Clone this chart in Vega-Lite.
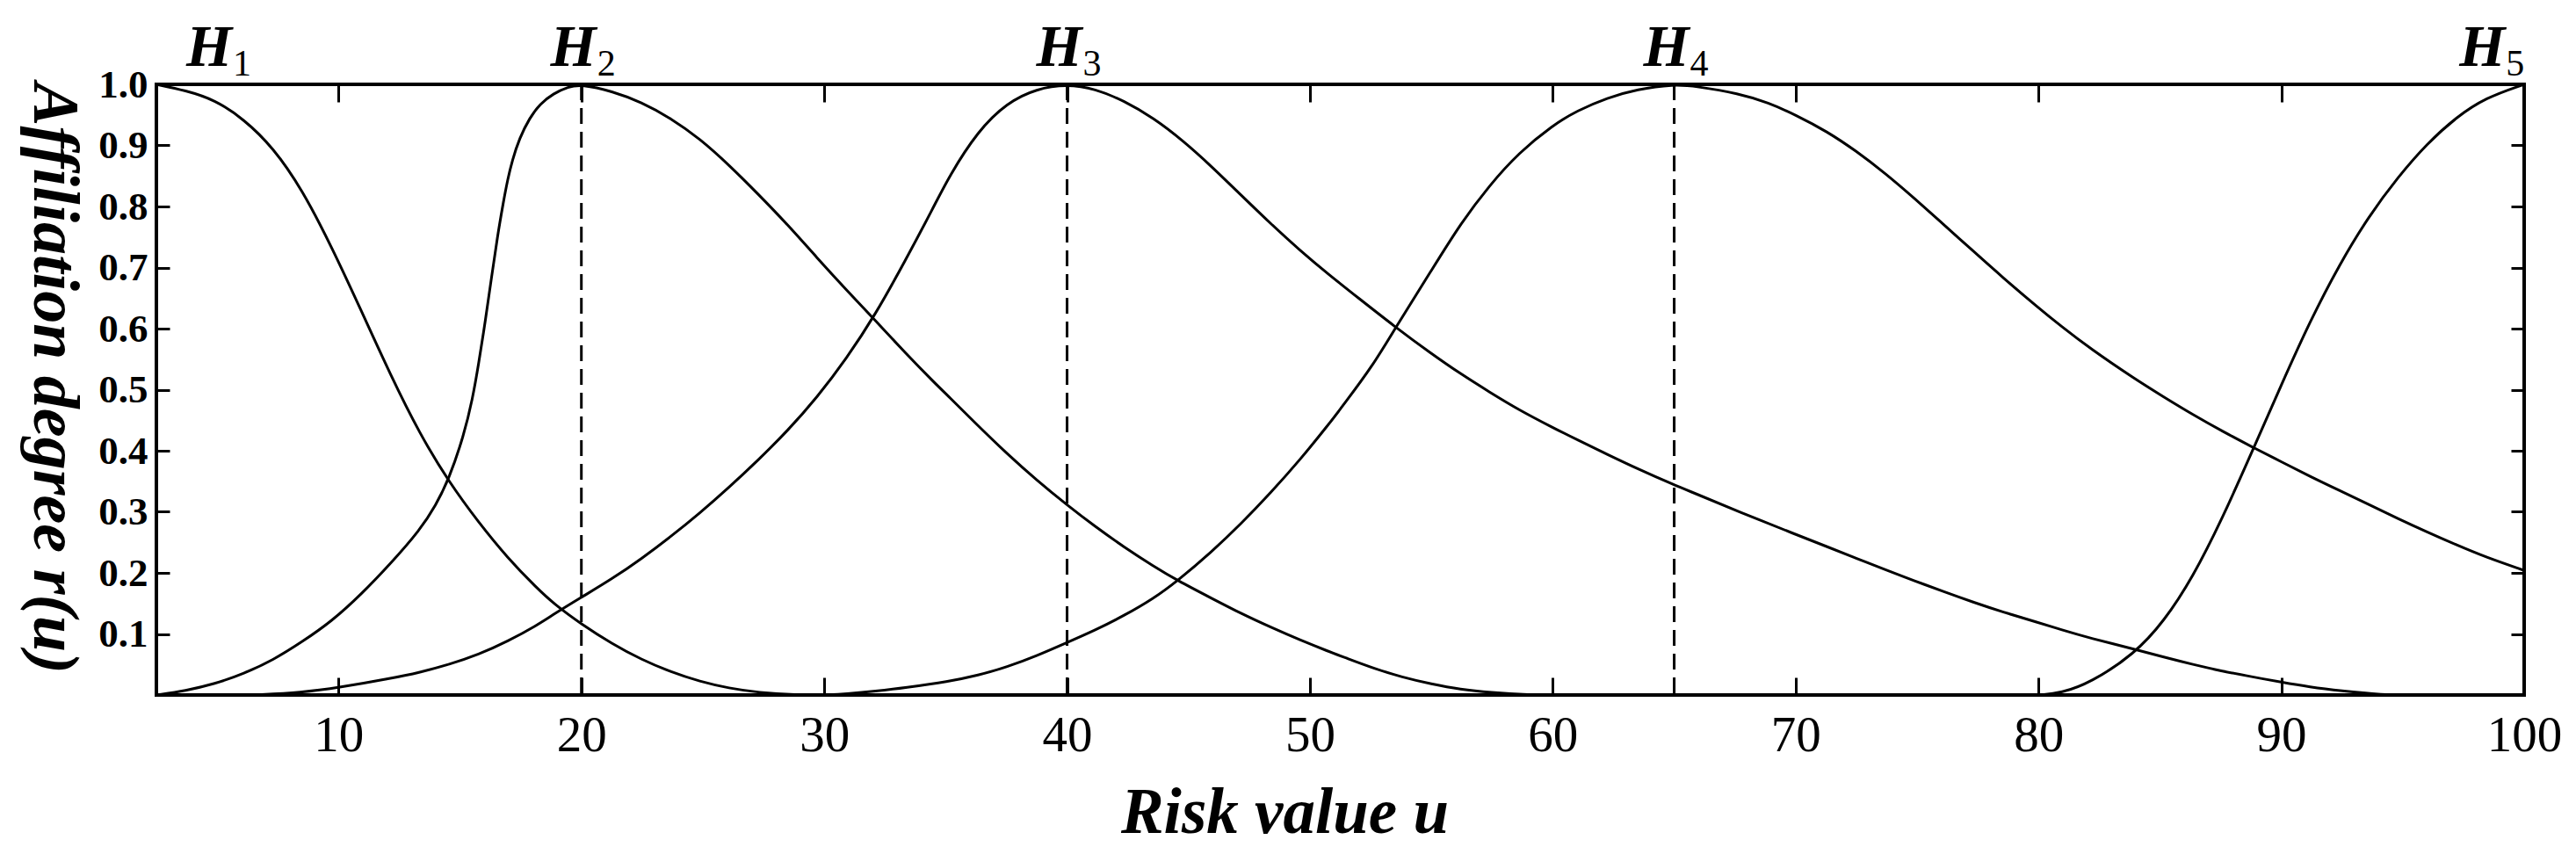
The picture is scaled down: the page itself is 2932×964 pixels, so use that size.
{
  "$schema": "https://vega.github.io/schema/vega-lite/v6.json",
  "width": 2695,
  "height": 695,
  "autosize": {"type": "none"},
  "padding": {"left": 178, "top": 96, "right": 59, "bottom": 173},
  "background": "white",
  "config": {
    "view": {"stroke": "black", "strokeWidth": 4},
    "axis": {"grid": false, "domain": false, "tickColor": "black", "tickWidth": 3, "labelColor": "black", "titleColor": "black", "labelFont": "Liberation Serif", "titleFont": "Liberation Serif"}
  },
  "datasets": {
    "curves": [
      {"c": "H1", "u": 2.5, "r": 1.0}, {"c": "H1", "u": 3.7, "r": 0.99}, {"c": "H1", "u": 4.9, "r": 0.975}, {"c": "H1", "u": 6.1, "r": 0.943}, {"c": "H1", "u": 7.3, "r": 0.897}, {"c": "H1", "u": 8.5, "r": 0.828}, {"c": "H1", "u": 9.73, "r": 0.733}, {"c": "H1", "u": 10.94, "r": 0.629}, {"c": "H1", "u": 12.14, "r": 0.524}, {"c": "H1", "u": 13.35, "r": 0.427}, {"c": "H1", "u": 14.56, "r": 0.348}, {"c": "H1", "u": 15.76, "r": 0.283}, {"c": "H1", "u": 16.97, "r": 0.224}, {"c": "H1", "u": 18.17, "r": 0.175}, {"c": "H1", "u": 18.85, "r": 0.15}, {"c": "H1", "u": 20, "r": 0.116}, {"c": "H1", "u": 21.26, "r": 0.084}, {"c": "H1", "u": 22.47, "r": 0.058}, {"c": "H1", "u": 23.67, "r": 0.038}, {"c": "H1", "u": 24.88, "r": 0.022}, {"c": "H1", "u": 26.08, "r": 0.011}, {"c": "H1", "u": 27.29, "r": 0.004}, {"c": "H1", "u": 28.85, "r": 0.0}, {"c": "H1", "u": 30, "r": 0.0},
      {"c": "H2", "u": 2.5, "r": 0.0}, {"c": "H2", "u": 3.7, "r": 0.007}, {"c": "H2", "u": 4.9, "r": 0.018}, {"c": "H2", "u": 6.1, "r": 0.035}, {"c": "H2", "u": 7.3, "r": 0.057}, {"c": "H2", "u": 8.5, "r": 0.087}, {"c": "H2", "u": 9.73, "r": 0.121}, {"c": "H2", "u": 10.94, "r": 0.165}, {"c": "H2", "u": 12.14, "r": 0.215}, {"c": "H2", "u": 13.35, "r": 0.27}, {"c": "H2", "u": 14, "r": 0.31}, {"c": "H2", "u": 14.56, "r": 0.355}, {"c": "H2", "u": 15.16, "r": 0.425}, {"c": "H2", "u": 15.52, "r": 0.485}, {"c": "H2", "u": 15.76, "r": 0.54}, {"c": "H2", "u": 16.06, "r": 0.616}, {"c": "H2", "u": 16.3, "r": 0.684}, {"c": "H2", "u": 16.54, "r": 0.75}, {"c": "H2", "u": 16.79, "r": 0.808}, {"c": "H2", "u": 16.97, "r": 0.845}, {"c": "H2", "u": 17.15, "r": 0.875}, {"c": "H2", "u": 17.45, "r": 0.912}, {"c": "H2", "u": 17.87, "r": 0.945}, {"c": "H2", "u": 18.29, "r": 0.968}, {"c": "H2", "u": 18.85, "r": 0.985}, {"c": "H2", "u": 19.45, "r": 0.996}, {"c": "H2", "u": 20, "r": 1.0}, {"c": "H2", "u": 21.26, "r": 0.989}, {"c": "H2", "u": 22.47, "r": 0.971}, {"c": "H2", "u": 23.67, "r": 0.945}, {"c": "H2", "u": 24.88, "r": 0.911}, {"c": "H2", "u": 26.08, "r": 0.868}, {"c": "H2", "u": 27.29, "r": 0.82}, {"c": "H2", "u": 28.5, "r": 0.77}, {"c": "H2", "u": 29.7, "r": 0.716}, {"c": "H2", "u": 30.9, "r": 0.664}, {"c": "H2", "u": 32.11, "r": 0.613}, {"c": "H2", "u": 33.32, "r": 0.561}, {"c": "H2", "u": 34.52, "r": 0.512}, {"c": "H2", "u": 35.12, "r": 0.489}, {"c": "H2", "u": 36.33, "r": 0.441}, {"c": "H2", "u": 37.53, "r": 0.395}, {"c": "H2", "u": 38.74, "r": 0.352}, {"c": "H2", "u": 40, "r": 0.311}, {"c": "H2", "u": 41.15, "r": 0.276}, {"c": "H2", "u": 42.35, "r": 0.242}, {"c": "H2", "u": 43.56, "r": 0.211}, {"c": "H2", "u": 44.52, "r": 0.188}, {"c": "H2", "u": 45.97, "r": 0.158}, {"c": "H2", "u": 47.18, "r": 0.133}, {"c": "H2", "u": 48.38, "r": 0.111}, {"c": "H2", "u": 49.59, "r": 0.09}, {"c": "H2", "u": 50.79, "r": 0.071}, {"c": "H2", "u": 51.4, "r": 0.062}, {"c": "H2", "u": 52.6, "r": 0.044}, {"c": "H2", "u": 53.8, "r": 0.029}, {"c": "H2", "u": 55, "r": 0.018}, {"c": "H2", "u": 56.2, "r": 0.009}, {"c": "H2", "u": 57.4, "r": 0.004}, {"c": "H2", "u": 59.1, "r": 0.0}, {"c": "H2", "u": 60, "r": 0.0},
      {"c": "H3", "u": 6.5, "r": 0.0}, {"c": "H3", "u": 8.5, "r": 0.004}, {"c": "H3", "u": 10, "r": 0.012}, {"c": "H3", "u": 12.14, "r": 0.027}, {"c": "H3", "u": 13.35, "r": 0.037}, {"c": "H3", "u": 14.56, "r": 0.05}, {"c": "H3", "u": 15.76, "r": 0.066}, {"c": "H3", "u": 16.97, "r": 0.088}, {"c": "H3", "u": 18.17, "r": 0.114}, {"c": "H3", "u": 18.85, "r": 0.132}, {"c": "H3", "u": 20, "r": 0.16}, {"c": "H3", "u": 21.26, "r": 0.19}, {"c": "H3", "u": 22.47, "r": 0.223}, {"c": "H3", "u": 23.67, "r": 0.259}, {"c": "H3", "u": 24.88, "r": 0.298}, {"c": "H3", "u": 26.08, "r": 0.34}, {"c": "H3", "u": 27.29, "r": 0.385}, {"c": "H3", "u": 28.5, "r": 0.433}, {"c": "H3", "u": 29.7, "r": 0.487}, {"c": "H3", "u": 30.9, "r": 0.55}, {"c": "H3", "u": 32.11, "r": 0.623}, {"c": "H3", "u": 33.32, "r": 0.71}, {"c": "H3", "u": 34.52, "r": 0.8}, {"c": "H3", "u": 35.12, "r": 0.848}, {"c": "H3", "u": 36.33, "r": 0.924}, {"c": "H3", "u": 37.53, "r": 0.97}, {"c": "H3", "u": 38.74, "r": 0.993}, {"c": "H3", "u": 40, "r": 1.0}, {"c": "H3", "u": 41.15, "r": 0.993}, {"c": "H3", "u": 42.35, "r": 0.973}, {"c": "H3", "u": 43.56, "r": 0.945}, {"c": "H3", "u": 44.77, "r": 0.908}, {"c": "H3", "u": 45.97, "r": 0.865}, {"c": "H3", "u": 47.18, "r": 0.818}, {"c": "H3", "u": 48.38, "r": 0.772}, {"c": "H3", "u": 49.59, "r": 0.728}, {"c": "H3", "u": 50.79, "r": 0.688}, {"c": "H3", "u": 52, "r": 0.65}, {"c": "H3", "u": 53.5, "r": 0.603}, {"c": "H3", "u": 55, "r": 0.559}, {"c": "H3", "u": 56.2, "r": 0.526}, {"c": "H3", "u": 57.4, "r": 0.496}, {"c": "H3", "u": 58.6, "r": 0.467}, {"c": "H3", "u": 60, "r": 0.438}, {"c": "H3", "u": 61, "r": 0.418}, {"c": "H3", "u": 62.25, "r": 0.394}, {"c": "H3", "u": 63.46, "r": 0.371}, {"c": "H3", "u": 65, "r": 0.344}, {"c": "H3", "u": 65.87, "r": 0.33}, {"c": "H3", "u": 67.67, "r": 0.3}, {"c": "H3", "u": 70, "r": 0.263}, {"c": "H3", "u": 71.29, "r": 0.243}, {"c": "H3", "u": 72.49, "r": 0.224}, {"c": "H3", "u": 73.7, "r": 0.205}, {"c": "H3", "u": 74.9, "r": 0.187}, {"c": "H3", "u": 76.11, "r": 0.169}, {"c": "H3", "u": 77.31, "r": 0.152}, {"c": "H3", "u": 78.52, "r": 0.136}, {"c": "H3", "u": 79.97, "r": 0.119}, {"c": "H3", "u": 80.93, "r": 0.107}, {"c": "H3", "u": 82.14, "r": 0.093}, {"c": "H3", "u": 83.95, "r": 0.075}, {"c": "H3", "u": 85.16, "r": 0.062}, {"c": "H3", "u": 86.36, "r": 0.05}, {"c": "H3", "u": 87.57, "r": 0.039}, {"c": "H3", "u": 88.77, "r": 0.03}, {"c": "H3", "u": 90, "r": 0.021}, {"c": "H3", "u": 91.18, "r": 0.013}, {"c": "H3", "u": 92.39, "r": 0.007}, {"c": "H3", "u": 94.3, "r": 0.0}, {"c": "H3", "u": 95, "r": 0.0},
      {"c": "H4", "u": 30, "r": 0.0}, {"c": "H4", "u": 30.9, "r": 0.002}, {"c": "H4", "u": 32.11, "r": 0.006}, {"c": "H4", "u": 33.32, "r": 0.012}, {"c": "H4", "u": 35.12, "r": 0.022}, {"c": "H4", "u": 36.33, "r": 0.032}, {"c": "H4", "u": 37.53, "r": 0.046}, {"c": "H4", "u": 38.74, "r": 0.064}, {"c": "H4", "u": 40, "r": 0.086}, {"c": "H4", "u": 41.15, "r": 0.106}, {"c": "H4", "u": 42.35, "r": 0.13}, {"c": "H4", "u": 43.56, "r": 0.158}, {"c": "H4", "u": 44.52, "r": 0.186}, {"c": "H4", "u": 45.97, "r": 0.235}, {"c": "H4", "u": 47.18, "r": 0.281}, {"c": "H4", "u": 48.38, "r": 0.331}, {"c": "H4", "u": 49.59, "r": 0.385}, {"c": "H4", "u": 50.79, "r": 0.444}, {"c": "H4", "u": 51.4, "r": 0.476}, {"c": "H4", "u": 52.6, "r": 0.54}, {"c": "H4", "u": 53.5, "r": 0.6}, {"c": "H4", "u": 55, "r": 0.695}, {"c": "H4", "u": 56.2, "r": 0.772}, {"c": "H4", "u": 57.4, "r": 0.835}, {"c": "H4", "u": 58.6, "r": 0.888}, {"c": "H4", "u": 60, "r": 0.933}, {"c": "H4", "u": 61, "r": 0.957}, {"c": "H4", "u": 62.25, "r": 0.978}, {"c": "H4", "u": 63.46, "r": 0.992}, {"c": "H4", "u": 65, "r": 1.0}, {"c": "H4", "u": 65.87, "r": 0.997}, {"c": "H4", "u": 67.67, "r": 0.985}, {"c": "H4", "u": 68.88, "r": 0.97}, {"c": "H4", "u": 70, "r": 0.95}, {"c": "H4", "u": 71.29, "r": 0.923}, {"c": "H4", "u": 72.49, "r": 0.891}, {"c": "H4", "u": 73.7, "r": 0.854}, {"c": "H4", "u": 74.9, "r": 0.813}, {"c": "H4", "u": 76.11, "r": 0.77}, {"c": "H4", "u": 77.31, "r": 0.727}, {"c": "H4", "u": 78.52, "r": 0.684}, {"c": "H4", "u": 79.97, "r": 0.635}, {"c": "H4", "u": 80.93, "r": 0.604}, {"c": "H4", "u": 82.14, "r": 0.567}, {"c": "H4", "u": 83.95, "r": 0.518}, {"c": "H4", "u": 85.16, "r": 0.488}, {"c": "H4", "u": 86.36, "r": 0.459}, {"c": "H4", "u": 87.57, "r": 0.432}, {"c": "H4", "u": 88.9, "r": 0.404}, {"c": "H4", "u": 90, "r": 0.382}, {"c": "H4", "u": 91.18, "r": 0.358}, {"c": "H4", "u": 92.39, "r": 0.335}, {"c": "H4", "u": 93.6, "r": 0.312}, {"c": "H4", "u": 94.8, "r": 0.289}, {"c": "H4", "u": 96, "r": 0.267}, {"c": "H4", "u": 97.2, "r": 0.246}, {"c": "H4", "u": 98.4, "r": 0.226}, {"c": "H4", "u": 100, "r": 0.204},
      {"c": "H5", "u": 80, "r": 0.0}, {"c": "H5", "u": 80.93, "r": 0.003}, {"c": "H5", "u": 82.14, "r": 0.02}, {"c": "H5", "u": 83.95, "r": 0.067}, {"c": "H5", "u": 85.16, "r": 0.12}, {"c": "H5", "u": 86.36, "r": 0.193}, {"c": "H5", "u": 87.57, "r": 0.289}, {"c": "H5", "u": 88.77, "r": 0.396}, {"c": "H5", "u": 90, "r": 0.508}, {"c": "H5", "u": 91.18, "r": 0.612}, {"c": "H5", "u": 92.39, "r": 0.705}, {"c": "H5", "u": 93.6, "r": 0.784}, {"c": "H5", "u": 94.8, "r": 0.848}, {"c": "H5", "u": 96, "r": 0.903}, {"c": "H5", "u": 97.2, "r": 0.946}, {"c": "H5", "u": 98.4, "r": 0.978}, {"c": "H5", "u": 100, "r": 1.0}
    ],
    "peaks": [{"u": 20}, {"u": 40}, {"u": 65}],
    "labels": [
      {"name": "H", "sub": "1", "u": 5, "r": 1},
      {"name": "H", "sub": "2", "u": 20, "r": 1},
      {"name": "H", "sub": "3", "u": 40, "r": 1},
      {"name": "H", "sub": "4", "u": 65, "r": 1},
      {"name": "H", "sub": "5", "u": 98.6, "r": 1}
    ]
  },
  "layer": [
    {
      "data": {"name": "curves"},
      "mark": {"type": "line", "color": "black", "strokeWidth": 3, "interpolate": "basis"},
      "encoding": {
        "x": {"field": "u", "type": "quantitative", "scale": {"domain": [2.5, 100], "nice": false, "zero": false},
          "axis": {"orient": "bottom", "values": [10, 20, 30, 40, 50, 60, 70, 80, 90, 100], "labelFontSize": 57, "labelFlush": false, "labelBaseline": "alphabetic", "tickSize": -20, "labelPadding": 83,
            "title": "Risk value u", "titleFontSize": 73, "titleFontWeight": "bold", "titleFontStyle": "italic", "titleX": 1284, "titleY": 156, "titleAlign": "center", "titleBaseline": "alphabetic"}},
        "y": {"field": "r", "type": "quantitative", "scale": {"domain": [0, 1], "nice": false},
          "axis": {"orient": "left", "values": [0.1, 0.2, 0.3, 0.4, 0.5, 0.6, 0.7, 0.8, 0.9, 1.0], "format": ".1f", "labelFontSize": 45, "labelFontWeight": "bold", "labelBaseline": "middle", "tickSize": -15, "labelPadding": 25,
            "title": "Affiliation degree r(u)", "titleFontSize": 74, "titleFontWeight": "bold", "titleFontStyle": "italic", "titleAngle": 90, "titleX": -140, "titleY": 334, "titleAlign": "center", "titleBaseline": "alphabetic"}},
        "detail": {"field": "c"}
      }
    },
    {
      "data": {"name": "peaks"},
      "mark": {"type": "rule", "color": "black", "strokeWidth": 3, "strokeDash": [18, 9]},
      "encoding": {"x": {"field": "u", "type": "quantitative", "axis": null}}
    },
    {
      "data": {"name": "labels"},
      "mark": {"type": "text", "font": "Liberation Serif", "fontSize": 67, "fontWeight": "bold", "fontStyle": "italic", "align": "right", "baseline": "alphabetic", "dx": 17, "dy": -21, "color": "black"},
      "encoding": {
        "x": {"field": "u", "type": "quantitative", "axis": {"orient": "top", "values": [10, 20, 30, 40, 50, 60, 70, 80, 90], "labels": false, "tickSize": -20, "title": null}},
        "y": {"field": "r", "type": "quantitative", "axis": {"orient": "right", "values": [0.1, 0.2, 0.3, 0.4, 0.5, 0.6, 0.7, 0.8, 0.9], "labels": false, "tickSize": -15, "title": null}},
        "text": {"field": "name"}
      }
    },
    {
      "data": {"name": "labels"},
      "mark": {"type": "text", "font": "Liberation Serif", "fontSize": 42, "align": "left", "baseline": "alphabetic", "dx": 18, "dy": -10, "color": "black"},
      "encoding": {
        "x": {"field": "u", "type": "quantitative", "axis": null},
        "y": {"field": "r", "type": "quantitative", "axis": null},
        "text": {"field": "sub"}
      }
    }
  ],
  "resolve": {"axis": {"x": "independent", "y": "independent"}}
}
